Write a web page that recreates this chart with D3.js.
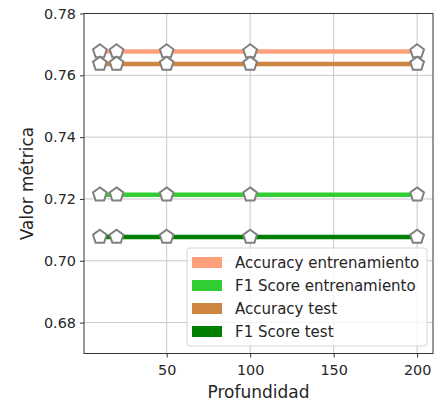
<!DOCTYPE html>
<html>
<head>
<meta charset="utf-8">
<script src="https://cdn.jsdelivr.net/npm/d3@7"></script>
<style>
  body { margin: 0; background: #fff; }
  text { font-family: "DejaVu Sans", sans-serif; fill: #262626; }
</style>
</head>
<body>
<div id="chart"></div>
<script>
// data
const profundidad = [10, 20, 50, 100, 200];
const accTrain = [0.7677, 0.7677, 0.7677, 0.7677, 0.7677];
const f1Train  = [0.7214, 0.7214, 0.7214, 0.7214, 0.7214];
const accTest  = [0.7637, 0.7637, 0.7637, 0.7637, 0.7637];
const f1Test   = [0.7077, 0.7077, 0.7077, 0.7077, 0.7077];
const seriesNames = ["Accuracy entrenamiento", "F1 Score entrenamiento", "Accuracy test", "F1 Score test"];
const seriesColors = ["#FFA07A", "#32CD32", "#CD853F", "#008000"];
const xTicks = [50, 100, 150, 200];
const yTicks = [0.68, 0.70, 0.72, 0.74, 0.76, 0.78];

const allSeries = [accTrain, f1Train, accTest, f1Test];

const width = 435, height = 404;
const margin = {top: 13.5, right: 2, bottom: 50.5, left: 84};
const w = width - margin.left - margin.right;
const h = height - margin.top - margin.bottom;

const svg = d3.select('#chart').append('svg')
  .attr('width', width).attr('height', height);
const g = svg.append('g').attr('transform', 'translate(' + margin.left + ',' + margin.top + ')');

// matplotlib style 5% margin on x
const pad = (200 - 10) * 0.05;
const x = d3.scaleLinear().domain([10 - pad, 200 + pad]).range([0, w]);
const y = d3.scaleLinear().domain([0.67, 0.78]).range([h, 0]);

// grid
g.append('g').selectAll('line').data(xTicks).join('line')
  .attr('x1', d => x(d)).attr('x2', d => x(d))
  .attr('y1', 0).attr('y2', h)
  .attr('stroke', '#c8c8c8').attr('stroke-width', 1);
g.append('g').selectAll('line').data(yTicks).join('line')
  .attr('y1', d => y(d)).attr('y2', d => y(d))
  .attr('x1', 0).attr('x2', w)
  .attr('stroke', '#c8c8c8').attr('stroke-width', 1);

// axes
const xAxis = d3.axisBottom(x).tickValues(xTicks).tickSize(4).tickPadding(7).tickFormat(d3.format('d'));
const yAxis = d3.axisLeft(y).tickValues(yTicks).tickSize(4).tickPadding(4).tickFormat(d3.format('.2f'));
const gx = g.append('g').attr('transform', 'translate(0,' + h + ')').call(xAxis);
const gy = g.append('g').call(yAxis);
[gx, gy].forEach(a => {
  a.select('.domain').remove();
  a.selectAll('line').attr('stroke', '#333');
  a.selectAll('text').style('font-size', '14.4px').style('fill', '#262626');
});

// pentagon marker
const pentagon = {
  draw(context, size) {
    const r = Math.sqrt(size / 2.378);
    for (let i = 0; i < 5; i++) {
      const a = -Math.PI / 2 + i * 2 * Math.PI / 5;
      const px = r * Math.cos(a), py = r * Math.sin(a);
      if (i === 0) context.moveTo(px, py); else context.lineTo(px, py);
    }
    context.closePath();
  }
};
const marker = d3.symbol().type(pentagon).size(2.378 * 52);

const line = d3.line()
  .x((d, i) => x(profundidad[i]))
  .y(d => y(d));

allSeries.forEach((s, k) => {
  const sg = g.append('g');
  sg.append('path').datum(s)
    .attr('d', line)
    .attr('fill', 'none')
    .attr('stroke', seriesColors[k])
    .attr('stroke-width', 4.5);
  sg.selectAll('path.m').data(s).join('path')
    .attr('class', 'm')
    .attr('d', marker)
    .attr('transform', (d, i) => 'translate(' + x(profundidad[i]) + ',' + y(d) + ')')
    .attr('fill', '#fff')
    .attr('stroke', '#808080')
    .attr('stroke-width', 2);
});

// frame
g.append('rect').attr('x', 0).attr('y', 0).attr('width', w).attr('height', h)
  .attr('fill', 'none').attr('stroke', '#333').attr('stroke-width', 1);

// axis titles
svg.append('text')
  .attr('x', margin.left + w / 2).attr('y', 398)
  .attr('text-anchor', 'middle')
  .style('font-size', '17px')
  .text('Profundidad');
svg.append('text')
  .attr('transform', 'translate(33,' + (margin.top + h / 2) + ') rotate(-90)')
  .attr('text-anchor', 'middle')
  .style('font-size', '17px')
  .text('Valor métrica');

// legend
const lg = svg.append('g').attr('transform', 'translate(187,248)');
lg.append('rect').attr('x', 0).attr('y', 0).attr('width', 240).attr('height', 98)
  .attr('rx', 3).attr('fill', 'rgba(255,255,255,0.8)').attr('stroke', '#d6d6d6');
seriesNames.forEach((n, k) => {
  const yy = 14 + k * 23;
  lg.append('rect').attr('x', 5).attr('y', yy - 5).attr('width', 30).attr('height', 11)
    .attr('fill', seriesColors[k]);
  lg.append('text').attr('x', 48).attr('y', yy + 5.5)
    .style('font-size', '15px')
    .text(n);
});
</script>
</body>
</html>
